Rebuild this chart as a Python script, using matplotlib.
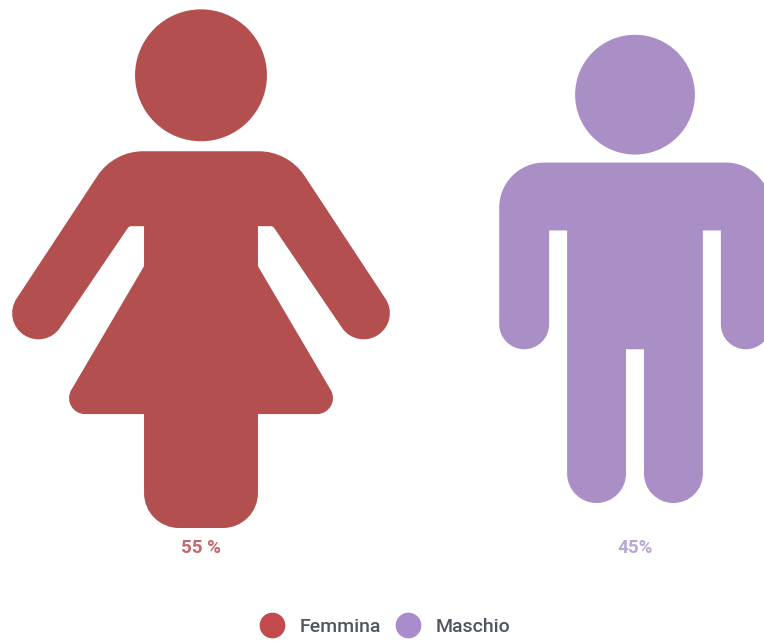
import numpy as np
import matplotlib
matplotlib.use("Agg")
import matplotlib.pyplot as plt
from matplotlib.lines import Line2D
from matplotlib.patches import Circle, PathPatch
from matplotlib.path import Path

plt.rcParams['font.family'] = ['Roboto', 'DejaVu Sans']

# data
categories = ['Femmina', 'Maschio']
values = [55, 45]
value_labels = ['55 %', '45%']

fill_colors = ['#b34f4f', '#aa8fc6']
label_colors = ['#c0696f', '#b9a7d2']
legend_colors = ['#c34a4c', '#a98ccb']

# icon outlines, right half only: x from centre, height above the feet, corner radius
woman_half = [(0, 377, 0), (87.4, 377, 55), (199, 207.6, 26), (155.6, 179, 26),
              (72, 302, 4), (57, 302, 0), (57, 262, 0), (144, 114, 16),
              (57, 114, 0), (57, 0, 35)]
man_half = [(0, 341, 0), (136, 341, 45), (136, 154, 25), (86, 154, 25),
            (86, 273, 0), (68, 273, 0), (68, 0, 29.5), (9, 0, 29.5), (9, 154, 0)]
# height of each outline, head included, and head centre height / radius
icon_design = [
    {'half': woman_half, 'height': 518, 'head_y': 453, 'head_r': 66},
    {'half': man_half, 'height': 469, 'head_y': 409, 'head_r': 60},
]

# layout in pixels, y going down
centres = [201, 635]
feet = [528, 503]
size_per_sqrt_value = 69.8
label_y = 548


def rounded_path(points):
    # closed path from (x, y, radius) corners, arcs done with cubic beziers
    verts, codes = [], []
    n = len(points)
    for i in range(n):
        p = np.array(points[i][:2], float)
        r = points[i][2]
        prev = np.array(points[i - 1][:2], float)
        nxt = np.array(points[(i + 1) % n][:2], float)
        if r == 0:
            verts.append(p)
            codes.append(Path.LINETO)
            continue
        a = (prev - p) / np.linalg.norm(prev - p)
        b = (nxt - p) / np.linalg.norm(nxt - p)
        turn = np.pi - np.arccos(np.clip(a @ b, -1, 1))
        d = r * np.tan(turn / 2)
        h = 4 / 3 * np.tan(turn / 4) * r
        verts += [p + a * d, p + a * (d - h), p + b * (d - h), p + b * d]
        codes += [Path.LINETO, Path.CURVE4, Path.CURVE4, Path.CURVE4]
    codes[0] = Path.MOVETO
    verts.append(verts[0])
    codes.append(Path.CLOSEPOLY)
    return Path(np.array(verts), codes)


def draw_person(ax, design, value, cx, base, color):
    # icon area follows the value, so its height goes with the square root
    scale = size_per_sqrt_value * np.sqrt(value) / design['height']
    half = design['half']
    outline = half + [(-x, y, r) for x, y, r in half[::-1] if x != 0]
    pts = [(cx + x * scale, base - y * scale, r * scale) for x, y, r in outline]
    ax.add_patch(PathPatch(rounded_path(pts), fc=color, ec='none'))
    ax.add_patch(Circle((cx, base - design['head_y'] * scale), design['head_r'] * scale,
                        fc=color, ec='none'))


fig = plt.figure(figsize=(7.64, 6.41), dpi=100)
ax = fig.add_axes([0, 0, 1, 1])
ax.set_xlim(0, 764)
ax.set_ylim(641, 0)
ax.axis('off')

for i in range(len(categories)):
    draw_person(ax, icon_design[i], values[i], centres[i], feet[i], fill_colors[i])
    ax.text(centres[i], label_y, value_labels[i], color=label_colors[i], fontsize=13.5,
            fontweight='bold', ha='center', va='center')

handles = [Line2D([], [], ls='none', marker='o', ms=18.5, mfc=c, mec='none') for c in legend_colors]
ax.legend(handles, categories, loc='center', bbox_to_anchor=(385, 627), bbox_transform=ax.transData,
          ncol=2, frameon=False, labelcolor='#4f5660', handlelength=1.3, handletextpad=0.77,
          columnspacing=0.77, prop={'family': 'Roboto', 'weight': 'medium', 'size': 14})

fig.savefig('out.png', dpi=100)
